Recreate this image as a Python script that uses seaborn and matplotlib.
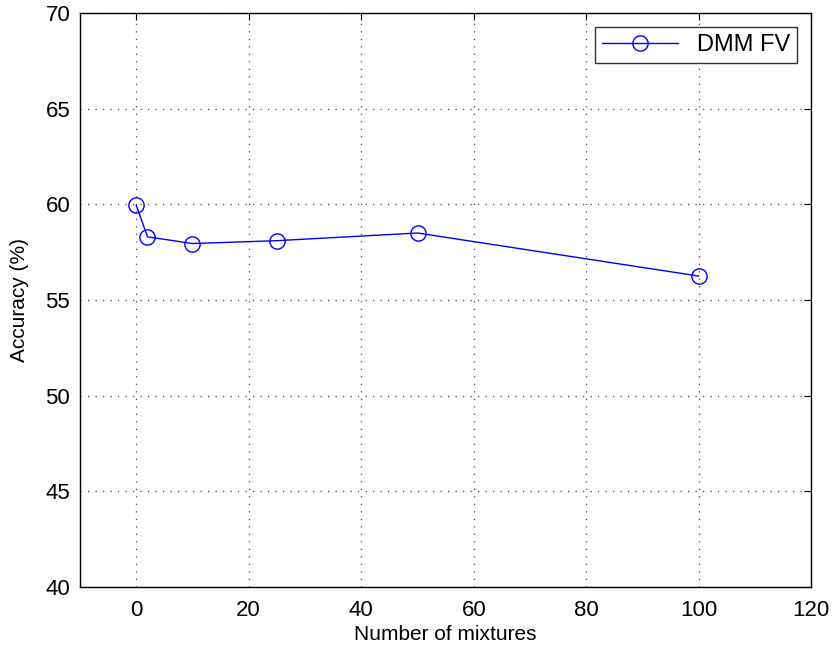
import matplotlib
matplotlib.use("Agg")
import matplotlib.pyplot as plt
import seaborn as sns
import pandas as pd

mixtures = [0, 2, 10, 25, 50, 100]
accuracy = [59.95, 58.3, 57.95, 58.1, 58.5, 56.25]
series_name = "DMM FV"

sns.set_style("white")
plt.rcParams['font.family'] = ['Liberation Sans', 'DejaVu Sans']
plt.rcParams['text.color'] = 'black'
plt.rcParams['axes.labelcolor'] = 'black'
plt.rcParams['xtick.color'] = 'black'
plt.rcParams['ytick.color'] = 'black'

df = pd.DataFrame({"x": mixtures, "y": accuracy, "s": series_name})

fig = plt.figure(figsize=(8.33, 6.47), dpi=100)
ax = fig.add_axes([0.096, 0.0927, 0.878, 0.8873])
sns.lineplot(data=df, x="x", y="y", hue="s", palette=["#0000ff"], marker="o",
             markersize=11, markerfacecolor="none", markeredgecolor="#0000ff",
             markeredgewidth=1.0, linewidth=1.0, ax=ax)

ax.set_xlim(-10, 120)
ax.set_ylim(40, 70)
ax.set_xticks(range(0, 121, 20))
ax.set_yticks(range(40, 71, 5))
ax.grid(True, color="#444444", linestyle=(0, (1, 5)), linewidth=0.9)
ax.tick_params(direction="in", top=True, right=True, labelsize=16, length=5, color="black")
ax.tick_params(axis="x", pad=9)
ax.tick_params(axis="y", pad=7)
for sp in ax.spines.values():
    sp.set_color("black")
    sp.set_linewidth(1.0)
ax.set_xlabel("Number of mixtures", fontsize=15, labelpad=3)
ax.set_ylabel("Accuracy (%)", fontsize=15, labelpad=12)

leg = ax.legend(loc="upper right", fontsize=17, frameon=True, fancybox=False,
                handlelength=3.2, borderaxespad=0.6, borderpad=0.3)
leg.get_frame().set_edgecolor("black")
leg.get_frame().set_linewidth(1.0)

fig.savefig("out.png", dpi=100)
